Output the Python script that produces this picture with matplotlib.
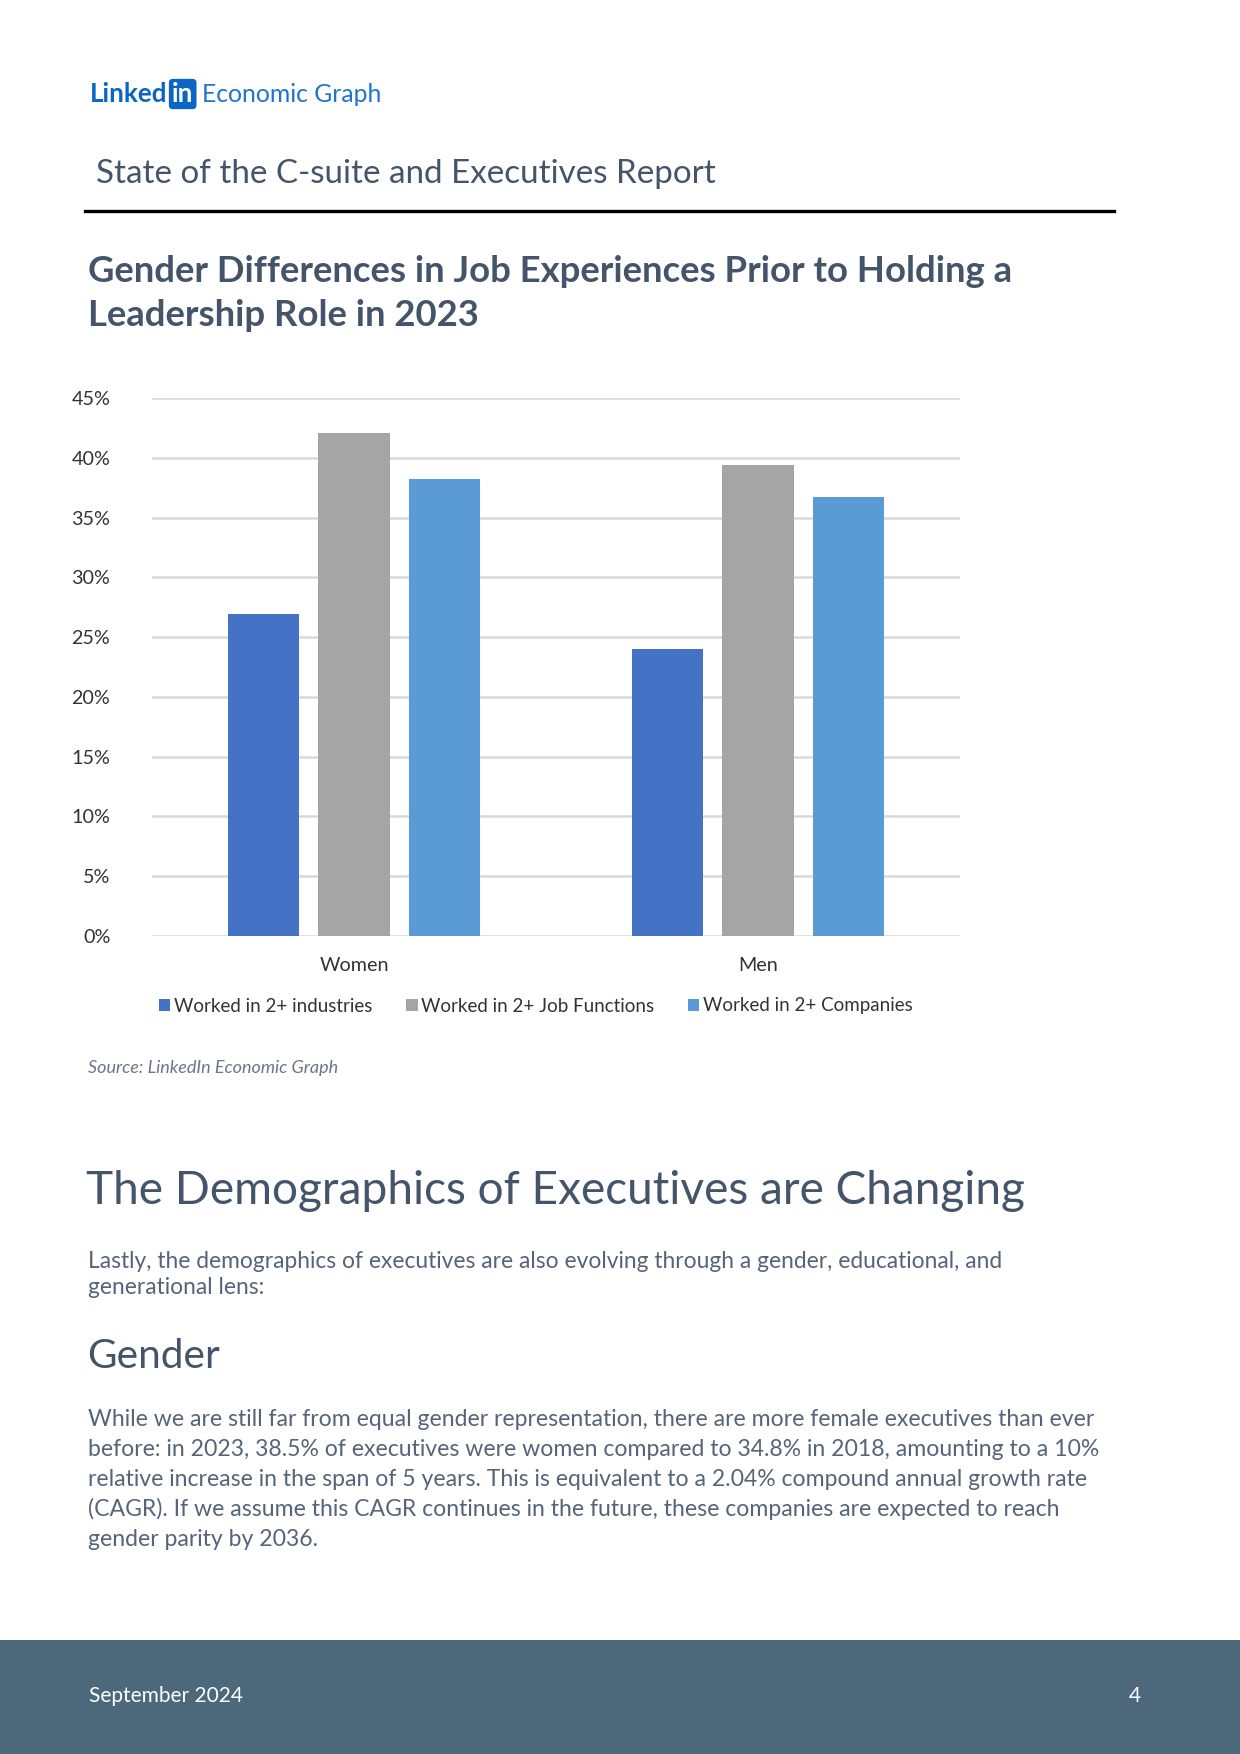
# LinkedIn Economic Graph - strana 4, graf podle pohlavi

import matplotlib.pyplot as plt
from matplotlib.patches import Rectangle
import numpy as np

# data
kategorie = ['Women', 'Men']
serie = ['Worked in 2+ industries', 'Worked in 2+ Job Functions', 'Worked in 2+ Companies']
industries = [26.9, 24.0]
job_functions = [42.1, 39.4]
companies = [38.2, 36.7]
y_ticks = [0, 5, 10, 15, 20, 25, 30, 35, 40, 45]

barvy = ['#4472c4', '#a5a5a5', '#5b9bd5']
tmava = '#44546a'   # nadpisy
text_barva = '#56647a'

plt.rcParams['font.family'] = ['Lato', 'DejaVu Sans']

W, H = 1240, 1754
fig = plt.figure(figsize=(W / 150, H / 150), dpi=150)

def px(x, y):
    # pixely (od leveho horniho rohu) -> souradnice obrazku
    return x / W, 1 - y / H

# hlavicka s logem
fig.text(*px(90, 94), 'Linked', color='#0a66c2', fontsize=12.5, fontweight='bold', va='center')
fig.text(*px(172, 94), 'in', color='white', fontsize=12.5, fontweight='bold', va='center',
         bbox=dict(boxstyle='round,pad=0.12,rounding_size=0.15', fc='#0a66c2', ec='none'))
fig.text(*px(202, 94), 'Economic Graph', color='#1f74cf', fontsize=11.9, va='center')

fig.text(*px(96, 174), 'State of the C-suite and Executives Report', color=tmava,
         fontsize=15.9, va='center')
fig.add_artist(plt.Line2D([85 / W, 1114 / W], [1 - 211 / H] * 2, color='black', lw=1.6))

# nadpis grafu
fig.text(*px(88, 272), 'Gender Differences in Job Experiences Prior to Holding a', color=tmava,
         fontsize=17.5, fontweight='bold', va='center')
fig.text(*px(88, 316), 'Leadership Role in 2023', color=tmava,
         fontsize=17.5, fontweight='bold', va='center')

# graf
ax = fig.add_axes([152 / W, 1 - 936 / H, (960 - 152) / W, (936 - 398) / H])
x = np.arange(len(kategorie))
sirka = 0.176
krok = 0.223
hodnoty = [industries, job_functions, companies]
sloupce = []
for i, (nazev, vals) in enumerate(zip(serie, hodnoty)):
    b = ax.bar(x + (i - 1) * krok, vals, width=sirka, color=barvy[i], label=nazev, zorder=3)
    sloupce.append(b)

ax.set_xlim(-0.5, 1.5)
ax.set_ylim(0, 45)
ax.set_yticks(y_ticks)
ax.set_yticklabels([f'{t}%' for t in y_ticks], fontsize=9.5, color='#333333')
ax.set_xticks(x)
ax.set_xticklabels(kategorie, fontsize=9.5, color='#333333')
ax.tick_params(axis='both', length=0)
ax.tick_params(axis='y', pad=20)
ax.tick_params(axis='x', pad=10)
ax.yaxis.grid(True, color='#d9d9d9', lw=1.2, zorder=0)
for s in ax.spines.values():
    s.set_visible(False)

fig.legend(handles=sloupce, labels=serie, loc='center', bbox_to_anchor=px(536, 1006), ncol=3,
           frameon=False, fontsize=9, handlelength=0.6, handleheight=0.6, handletextpad=0.2,
           columnspacing=1.8, labelcolor='#333333')

fig.text(*px(88, 1068), 'Source: LinkedIn Economic Graph', color='#6b7686', fontsize=8.65,
         fontstyle='italic', va='center')

# text pod grafem
fig.text(*px(86, 1191), 'The Demographics of Executives are Changing', color=tmava,
         fontsize=22.1, va='center')

odstavec1 = ['Lastly, the demographics of executives are also evolving through a gender, educational, and',
             'generational lens:']
for i, radek in enumerate(odstavec1):
    fig.text(*px(88, 1261 + i * 26), radek, color=text_barva, fontsize=10.9, va='center')

fig.text(*px(87, 1356), 'Gender', color=tmava, fontsize=19.5, va='center')

odstavec2 = ['While we are still far from equal gender representation, there are more female executives than ever',
             'before: in 2023, 38.5% of executives were women compared to 34.8% in 2018, amounting to a 10%',
             'relative increase in the span of 5 years. This is equivalent to a 2.04% compound annual growth rate',
             '(CAGR). If we assume this CAGR continues in the future, these companies are expected to reach',
             'gender parity by 2036.']
for i, radek in enumerate(odstavec2):
    fig.text(*px(88, 1419 + i * 30), radek, color=text_barva, fontsize=11.05, va='center')

# paticka
fig.add_artist(Rectangle((0, 0), 1, (H - 1640) / H, transform=fig.transFigure, color='#4c697c', lw=0))
fig.text(*px(89, 1696), 'September 2024', color='white', fontsize=10, va='center')
fig.text(*px(1141, 1696), '4', color='white', fontsize=10, va='center', ha='right')

fig.savefig('out.png', dpi=150)
